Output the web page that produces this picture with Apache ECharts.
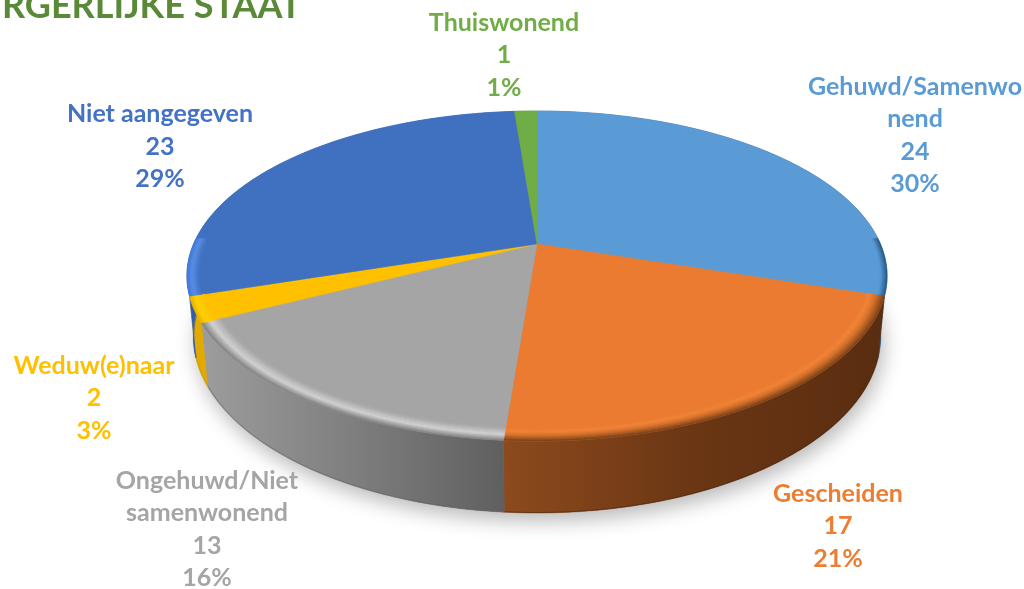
<!DOCTYPE html>
<html>
<head>
<meta charset="utf-8">
<style>html,body{margin:0;padding:0;background:#fff}#c{width:1024px;height:589px}</style>
<script src="https://cdn.jsdelivr.net/npm/echarts@6/dist/echarts.min.js"></script>
</head>
<body>
<div id="c"></div>
<script>
// data
const titleText = 'RGERLIJKE STAAT';
const categories = ['Gehuwd/Samenwo\nnend', 'Gescheiden', 'Ongehuwd/Niet\nsamenwonend', 'Weduw(e)naar', 'Niet aangegeven', 'Thuiswonend'];
const values = [24, 17, 13, 2, 23, 1];

// styles
const topColors = ['#5b9bd5', '#ea7b30', '#a5a5a5', '#ffc000', '#4070c0', '#70ad47'];
const labelColors = ['#5b9bd5', '#ed7d31', '#a5a5a5', '#ffc000', '#4472c4', '#70ad47'];
const wallStops = [
  [[0, '#3a6f9f'], [1, '#2c5a86']],
  [[0, '#8c4a1d'], [0.5, '#6a3614'], [1, '#5a2d10']],
  [[0, '#9c9c9c'], [0.5, '#7e7e7e'], [1, '#5f5f5f']],
  [[0, '#e2aa00'], [1, '#e2aa00']],
  [[0, '#2f5da8'], [1, '#2f5da8']],
  [[0, '#4d7a30'], [1, '#4d7a30']]
];
const wallRange = [[700, 890], [505, 885], [205, 505], [190, 210], [187, 400], [500, 540]];
// bevel: colour at given radius, outer edge to inner
const rims = [
  {from: 88, stops: [[1, '#26527a'], [0.99, '#3e78ac'], [0.98, '#5b9bd5']]},
  {stops: [[1, '#6f3c18'], [0.99, '#9a531f'], [0.975, '#d6722d'], [0.96, '#f08538'], [0.945, '#ea7b30']]},
  {stops: [[1, '#7c7c7c'], [0.99, '#a0a0a0'], [0.975, '#d4d4d4'], [0.96, '#bdbdbd'], [0.945, '#a5a5a5']]},
  {stops: [[1, '#e6ae00'], [0.985, '#ffd200'], [0.96, '#ffc000']]},
  {to: 272, stops: [[1, '#3f78d8'], [0.985, '#5a90e8'], [0.965, '#4070c0']]},
  {stops: []}
];
const baseEdge = ['#2c5a86', '#4e2a10', '#666666', '#c99700', '#2f5da8', '#4d7a30'];
const labelCentres = [[915, 135.5], [838, 526], [207, 529.5], [94, 398], [160, 146.5], [504, 55]];

// projection of the tilted disc
const view = {cx: 537, cy: 244, a: 343.4, b: 158.8, k: 0.194, depth: 58, shrink: 0.982};
const total = values.reduce((s, v) => s + v, 0);
const cum = [];
values.reduce((s, v, i) => (cum[i] = s, s + v), 0);
const toAngle = v => v / total * 360;
function proj(deg, r, lower) {
  const t = deg * Math.PI / 180, u = r * Math.sin(t), v = -r * Math.cos(t), w = 1 - view.k * v;
  const x = view.a * u / w, y = view.b * v / w;
  return lower ? [view.cx + x * view.shrink, view.cy + y + view.depth / w]
               : [view.cx + x, view.cy + y];
}
function arc(from, to, r, lower) {
  const pts = [], n = Math.max(2, Math.ceil(Math.abs(to - from)));
  for (let i = 0; i <= n; i++) pts.push(proj(from + (to - from) * i / n, r, lower));
  return pts;
}
const span = i => [toAngle(cum[i]), toAngle(cum[i] + values[i])];
const nonInteractive = {silent: true, animation: false, tooltip: {show: false}, coordinateSystem: 'none'};

function rimRings(i) {
  const [s, e] = span(i), rim = rims[i], out = [];
  const from = rim.from !== undefined ? rim.from : s, to = rim.to !== undefined ? rim.to : e;
  for (let j = 0; j + 1 < rim.stops.length; j++) {
    const a = rim.stops[j], b = rim.stops[j + 1], steps = 4;
    for (let q = 0; q < steps; q++) {
      const r1 = a[0] + (b[0] - a[0]) * q / steps, r2 = a[0] + (b[0] - a[0]) * (q + 1) / steps;
      const col = echarts.color.lerp((q + 0.5) / steps, [a[1], b[1]]);
      out.push({type: 'polygon', shape: {points: arc(from, to, r1, false).concat(arc(to, from, r2, false))},
        style: {fill: col, stroke: col, lineWidth: 0.4}});
    }
  }
  return out;
}

const series = [
  {
    type: 'custom', ...nonInteractive, z: 1, data: [total],
    renderItem: () => ({type: 'polygon', shape: {points: arc(0, 360, 1, true)},
      style: {fill: '#999', shadowBlur: 20, shadowColor: 'rgba(0,0,0,0.28)', shadowOffsetY: 8, shadowOffsetX: 3}})
  },
  {
    type: 'custom', ...nonInteractive, z: 2, data: values,
    renderItem: (p) => {
      const i = p.dataIndex, [s, e] = span(i), rg = wallRange[i];
      const pts = arc(s, e, 1, false).concat(arc(e, s, 1, true));
      const fill = new echarts.graphic.LinearGradient(rg[0], 0, rg[1], 0,
        wallStops[i].map(c => ({offset: c[0], color: c[1]})), true);
      return {type: 'group', children: [
        {type: 'polygon', shape: {points: pts}, style: {fill, stroke: fill, lineWidth: 0.5}},
        {type: 'polyline', shape: {points: arc(s, e, 0.998, true)}, style: {fill: 'none', stroke: baseEdge[i], lineWidth: 1, opacity: 0.6}}
      ]};
    }
  },
  {
    type: 'custom', ...nonInteractive, z: 3, data: values,
    renderItem: (p) => {
      const i = p.dataIndex, [s, e] = span(i);
      const pts = [proj(0, 0, false)].concat(arc(s, e, 1, false));
      return {type: 'polygon', shape: {points: pts}, style: {fill: topColors[i], stroke: topColors[i], lineWidth: 0.5}};
    }
  },
  {
    type: 'custom', ...nonInteractive, z: 4, data: values,
    renderItem: (p) => ({type: 'group', children: rimRings(p.dataIndex)})
  },
  {
    type: 'custom', ...nonInteractive, z: 5, data: values,
    renderItem: (p) => {
      const i = p.dataIndex;
      const pct = Math.round(values[i] / total * 100);
      return {type: 'text', x: labelCentres[i][0], y: labelCentres[i][1], style: {
        text: categories[i] + '\n' + values[i] + '\n' + pct + '%',
        fill: labelColors[i], font: 'bold 25px Lato', lineHeight: 32.5,
        align: 'center', verticalAlign: 'middle'
      }};
    }
  }
];

const chart = echarts.init(document.getElementById('c'), null, {renderer: 'canvas'});
chart.setOption({
  animation: false,
  backgroundColor: '#fff',
  title: {text: titleText, left: 2, top: -12, padding: 0,
    textStyle: {color: '#5a8a38', fontFamily: 'Lato', fontWeight: 'bold', fontSize: 36}},
  series
});
</script>
</body>
</html>
